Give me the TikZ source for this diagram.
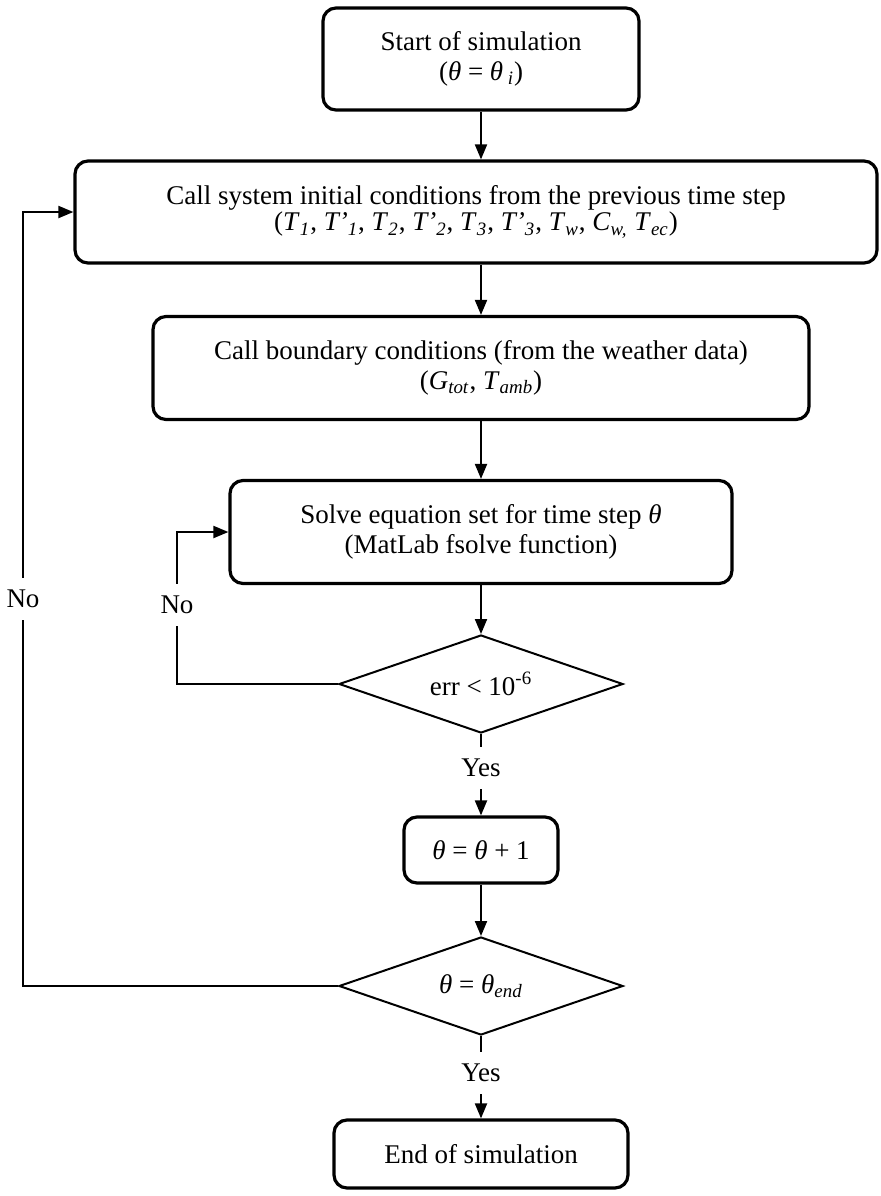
\documentclass[tikz,border=0pt]{standalone}
\usepackage{fontspec}
\setmainfont{Liberation Serif}
\usetikzlibrary{shapes.geometric,arrows.meta}
\newcommand{\thv}{\textit{θ}}
\begin{document}
\begin{tikzpicture}[x=0.5pt,y=-0.5pt,
		font=\fontsize{13.5}{15}\selectfont,
		blk/.style={draw, rounded corners=6.5pt, line width=1.6pt, align=center},
		dec/.style={draw, diamond, aspect=2.9, line width=1pt, minimum width=142pt, minimum height=49pt, inner sep=0pt},
		arr/.style={-{Triangle[length=7.5pt,width=6pt]}, line width=1pt},
		lbl/.style={fill=white, inner xsep=3pt, inner ysep=6pt}]
		\useasboundingbox (0,0) rectangle (880,1196);

		% boxes of the main chain
		\node[blk, minimum width=158pt, minimum height=51pt] (start) at (481,59)
			{Start of simulation\\(\thv{} = \thv\,\textsubscript{\textit{i}})};
		\node[blk, minimum width=401pt, minimum height=51pt] (init) at (476,212)
			{Call system initial conditions from the previous time step\\[-2pt]
			(\textit{T}\textsubscript{\textit{1}}, \textit{T’}\textsubscript{\textit{1}}, \textit{T}\textsubscript{\textit{2}}, \textit{T’}\textsubscript{\textit{2}}, \textit{T}\textsubscript{\textit{3}}, \textit{T’}\textsubscript{\textit{3}}, \textit{T}\textsubscript{\textit{w}}, \textit{C}\textsubscript{\textit{w,}} \textit{T}\textsubscript{\textit{ec}})};
		\node[blk, minimum width=328pt, minimum height=51.5pt] (bnd) at (481,368)
			{Call boundary conditions (from the weather data)\\
			(\textit{G}\textsubscript{\textit{tot}}, \textit{T}\textsubscript{\textit{amb}})};
		\node[blk, minimum width=251pt, minimum height=51.5pt] (solve) at (481,532)
			{Solve equation set for time step \thv\\(MatLab fsolve function)};
		\node[dec] (errchk) at (481,684) {err < 10\textsuperscript{-6}};
		\node[blk, minimum width=77pt, minimum height=33pt] (incr) at (481,850) {\thv{} = \thv{} + 1};
		\node[dec] (endchk) at (481,986) {\thv{} = \thv\textsubscript{\textit{end}}};
		\node[blk, minimum width=147pt, minimum height=34pt] (stop) at (481,1154) {End of simulation};

		\draw[arr] (start) -- (start |- init.north);
		\draw[arr] (init.south -| bnd) -- (bnd);
		\draw[arr] (bnd) -- (solve);
		\draw[arr] (solve) -- (errchk);
		\draw[arr] (errchk) -- node[lbl, pos=0.42] {Yes} (incr);
		\draw[arr] (incr) -- (endchk);
		\draw[arr] (endchk) -- node[lbl, pos=0.45] {Yes} (stop);

		% loops back
		\draw[arr] (errchk.west) -- ++(-161,0) |- node[lbl, pos=0.26] {No} (solve.west);
		\draw[arr] (endchk.west) -- ++(-315,0) |- node[lbl, pos=0.25] {No} (init.west);
	\end{tikzpicture}
\end{document}
